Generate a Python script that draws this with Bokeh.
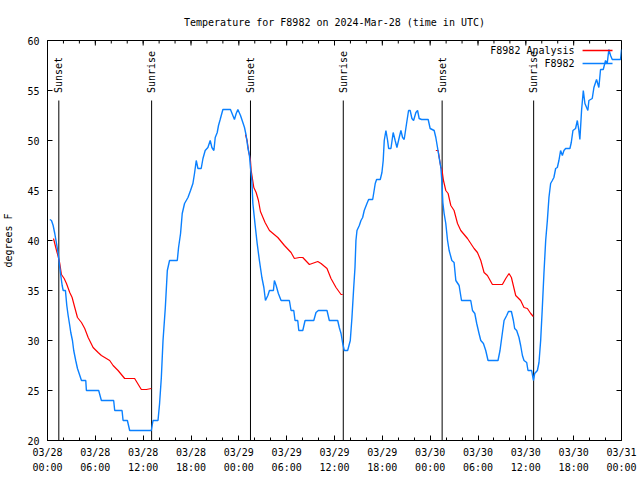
import math
import numpy as np
from bokeh.plotting import figure
from bokeh.models import LinearAxis, FixedTicker, Range1d
from bokeh.embed import file_html
from bokeh.resources import INLINE
from bokeh.core.properties import value

FONT = "DejaVu Sans Mono"

title_text = "Temperature for F8982 on 2024-Mar-28 (time in UTC)"
y_label = "degrees F"
series_names = ["F8982 Analysis", "F8982"]

# time axis: hours since 2024-03-28 00:00 UTC
x_ticks = [0, 6, 12, 18, 24, 30, 36, 42, 48, 54, 60, 66, 72]
x_tick_labels = ["03/28\n00:00", "03/28\n06:00", "03/28\n12:00", "03/28\n18:00",
                 "03/29\n00:00", "03/29\n06:00", "03/29\n12:00", "03/29\n18:00",
                 "03/30\n00:00", "03/30\n06:00", "03/30\n12:00", "03/30\n18:00",
                 "03/31\n00:00"]
x_minor_ticks = list(range(0, 73, 2))
y_ticks = [20, 25, 30, 35, 40, 45, 50, 55, 60]

# sunrise / sunset events
event_hours = [1.42, 13.06, 25.46, 37.1, 49.5, 60.98]
event_names = ["Sunset", "Sunrise", "Sunset", "Sunrise", "Sunset", "Sunrise"]

# analysis (nighttime only)
analysis_night1_h = [0.75, 1.13, 1.34, 1.54, 1.75, 2.09, 2.38, 2.79, 3.09, 3.42, 3.76, 4.26, 4.67,
                     5.10, 5.72, 6.35, 6.76, 7.80, 8.23, 8.85, 9.68, 10.93, 11.77, 12.40, 13.02]
analysis_night1_t = [40.2, 39.0, 38.4, 37.7, 36.6, 36.2, 35.7, 34.8, 34.3, 33.3, 32.3, 31.8, 31.2,
                     30.3, 29.3, 28.8, 28.5, 28.0, 27.5, 27.0, 26.2, 26.2, 25.1, 25.1, 25.2]
analysis_night2_h = [24.83, 25.04, 25.21, 25.46, 25.55, 25.88, 26.17, 26.46, 26.71, 27.29, 27.84,
                     28.89, 29.72, 30.55, 30.97, 31.59, 32.02, 32.85, 33.90, 34.31, 35.06, 35.56,
                     36.19, 36.82, 37.03]
analysis_night2_t = [50.6, 50.0, 49.0, 48.0, 47.0, 45.3, 44.8, 44.0, 42.9, 41.8, 41.0,
                     40.3, 39.5, 38.8, 38.2, 38.3, 38.3, 37.6, 37.9, 37.7, 37.2, 36.2,
                     35.3, 34.6, 34.6]
analysis_night3_h = [48.71, 49.00, 49.34, 49.46, 49.67, 49.96, 50.25, 50.59, 51.00, 51.43, 51.84,
                     52.68, 53.51, 53.93, 54.35, 54.76, 55.18, 55.81, 57.06, 57.48, 57.89, 58.19,
                     58.52, 58.73, 59.35, 59.77, 60.19, 60.61, 60.94]
analysis_night3_t = [49.0, 49.0, 47.3, 47.2, 46.0, 45.0, 44.7, 43.5, 43.0, 41.7, 41.0,
                     40.2, 39.2, 38.8, 38.0, 36.8, 36.5, 35.6, 35.6, 36.2, 36.7, 36.3,
                     35.2, 34.5, 34.0, 33.3, 33.2, 32.7, 32.4]

# station observations
obs_h = [0.29, 0.50, 0.71, 0.91, 1.13, 1.34, 1.54, 1.67, 1.84, 1.97, 2.25, 2.42, 2.59, 2.79, 2.92,
         3.13, 3.29, 3.54, 3.76, 3.97, 4.26, 4.80, 4.88, 6.42, 6.76, 8.30, 8.43, 9.35, 9.48, 10.02,
         10.31, 13.02, 13.24, 13.86, 14.06, 14.28, 14.49, 14.78, 15.03, 15.31, 16.28, 16.44, 16.69,
         16.90, 17.19, 17.62, 17.94, 18.24, 18.44, 18.66, 18.87, 19.28, 19.50, 19.78, 20.12, 20.41,
         20.62, 20.87, 21.04, 21.29, 21.45, 21.66, 22.00, 22.95, 23.25, 23.45, 23.67, 23.88, 24.21,
         24.42, 24.71, 24.92, 25.13, 25.33, 25.46, 25.63, 25.76, 26.05, 26.30, 26.58, 26.89, 27.14,
         27.34, 27.64, 27.84, 28.34, 28.46, 28.68, 28.96, 29.30, 30.34, 30.55, 30.89, 31.05, 31.39,
         31.52, 32.02, 32.31, 33.40, 33.68, 33.97, 35.06, 35.35, 36.40, 36.60, 36.82, 37.03, 37.23,
         37.65, 37.98, 38.19, 38.41, 38.57, 38.69, 38.82, 39.11, 39.32, 39.53, 39.73, 40.07, 40.28,
         40.79, 40.91, 41.11, 41.28, 41.74, 41.95, 42.11, 42.24, 42.45, 42.66, 42.79, 43.08, 43.36,
         43.61, 43.83, 44.12, 44.33, 44.54, 44.74, 45.04, 45.29, 45.49, 45.71, 45.92, 46.21, 46.42,
         46.62, 46.92, 47.75, 48.00, 48.50, 48.71, 48.92, 49.12, 49.34, 49.46, 49.59, 49.75, 49.96,
         50.18, 50.38, 50.72, 51.00, 51.22, 51.63, 51.93, 53.09, 53.31, 53.60, 53.84, 54.13, 54.35,
         54.68, 54.97, 55.26, 56.51, 56.76, 56.98, 57.27, 57.60, 57.82, 58.19, 58.44, 58.60, 58.85,
         59.14, 59.35, 59.57, 59.77, 60.11, 60.27, 60.73, 60.95, 61.11, 61.45, 61.65, 61.86, 62.07,
         62.27, 62.49, 62.70, 62.90, 63.11, 63.32, 63.52, 63.74, 63.95, 64.15, 64.36, 64.58, 64.78,
         64.99, 65.53, 65.70, 65.91, 66.24, 66.46, 66.65, 66.78, 66.99, 67.21, 67.41, 67.62, 67.78,
         67.91, 68.33, 68.54, 68.87, 69.16, 69.37, 69.71, 70.00, 70.21, 70.41, 70.63, 70.84, 71.88,
         72.00]
obs_t = [42.1, 42.0, 41.5, 40.7, 39.7, 38.7, 37.3, 36.5, 35.5, 35.0, 35.0, 33.5, 32.5, 31.5, 30.8,
         30.0, 29.0, 28.0, 27.2, 26.7, 26.0, 26.0, 25.0, 25.0, 24.0, 24.0, 23.0, 23.0, 22.0, 22.0,
         21.0, 21.0, 22.0, 22.0, 23.7, 26.3, 30.0, 33.3, 37.0, 38.0, 38.0, 39.3, 40.7,
         42.7, 43.7, 44.3, 45.0, 45.7, 46.7, 48.0, 47.2, 47.2, 48.2, 49.0, 49.3, 50.0,
         49.3, 49.0, 50.3, 50.8, 51.5, 52.1, 53.1, 53.1, 52.5, 52.1, 52.7, 53.1, 52.5,
         52.0, 51.3, 50.5, 49.3, 48.5, 47.3, 46.0, 43.7, 41.5, 39.7, 38.0, 36.3, 35.3,
         34.0, 34.5, 35.0, 35.0, 36.0, 35.5, 34.7, 34.0, 34.0, 33.0, 33.0, 32.0, 32.0,
         31.0, 31.0, 32.0, 32.0, 32.8, 33.0, 33.0, 32.0, 32.0, 31.3, 30.7, 29.7, 29.0,
         29.0, 30.0, 32.3, 35.3, 37.3, 40.0, 41.0, 41.5, 42.0, 42.3, 43.0, 43.7, 44.1,
         44.1, 44.7, 45.7, 46.1, 46.1, 46.8, 48.0, 50.0, 51.0, 50.0, 49.2, 49.2, 50.8,
         50.0, 49.3, 50.3, 51.0, 50.3, 50.1, 51.7, 53.0, 53.0, 52.2, 52.0, 52.8, 53.0,
         52.2, 52.1, 52.1, 51.2, 51.0, 50.3, 49.3, 48.3, 47.3, 46.0, 43.8, 42.7, 41.7,
         40.0, 39.0, 38.0, 37.8, 36.0, 35.5, 34.0, 34.0, 33.0, 32.7, 31.7, 30.7, 30.0,
         29.7, 29.0, 28.0, 28.0, 29.0, 30.3, 32.0, 32.5, 32.9, 32.9, 32.0, 31.2, 31.0,
         30.3, 29.5, 28.5, 28.0, 27.8, 27.0, 27.0, 26.0, 26.7, 27.0, 27.8, 30.0, 33.3,
         36.7, 40.0, 42.0, 44.3, 45.7, 46.0, 46.3, 47.2, 47.3, 48.0, 49.0, 48.5, 49.0,
         49.2, 49.2, 49.8, 51.0, 51.2, 52.0, 51.0, 50.1, 53.0, 55.0, 53.7, 53.3, 53.0,
         54.0, 54.2, 55.3, 56.1, 55.3, 57.1, 57.1, 58.0, 57.7, 59.1, 58.5, 58.1, 58.1,
         59.1]

X_START, X_END = 0, 72
Y_START, Y_END = 20, 60
RED = "#ff0000"
BLUE = "#0a80ff"

W, H = 640, 480
B_LEFT, B_RIGHT, B_TOP, B_BOTTOM = 46, 19, 40, 40
FRAME_W = W - B_LEFT - B_RIGHT
FRAME_H = H - B_TOP - B_BOTTOM
DX = (X_END - X_START) / FRAME_W   # data units per pixel
DY = (Y_END - Y_START) / FRAME_H

p = figure(width=W, height=H, output_backend="svg", toolbar_location=None,
           x_range=Range1d(X_START, X_END), y_range=Range1d(Y_START, Y_END),
           x_axis_location=None, y_axis_location=None,
           min_border_left=B_LEFT, min_border_right=B_RIGHT,
           min_border_top=B_TOP, min_border_bottom=B_BOTTOM,
           title=title_text)
p.title.text_font = FONT
p.title.text_font_size = "10px"
p.title.text_font_style = "normal"
p.title.text_color = "black"
p.title.align = "center"
p.title.standoff = 25
p.grid.visible = False
p.outline_line_color = "black"
p.outline_line_width = 1
p.background_fill_color = "white"
p.border_fill_color = "white"

MAJOR_LEN, MINOR_LEN = 5, 3


def style(ax):
    ax.axis_line_color = "black"
    ax.major_tick_line_color = "black"
    ax.minor_tick_line_color = "black"
    ax.major_tick_in = MAJOR_LEN
    ax.major_tick_out = 0
    ax.minor_tick_in = MINOR_LEN
    ax.minor_tick_out = 0
    ax.major_label_text_font = FONT
    ax.major_label_text_color = "black"
    ax.major_label_text_font_size = "10px"


bottom = LinearAxis(ticker=FixedTicker(ticks=x_ticks, minor_ticks=x_minor_ticks),
                    major_label_overrides=dict(zip(x_ticks, x_tick_labels)))
style(bottom)
bottom.major_label_standoff = 6
bottom.major_label_text_line_height = 1.4
p.add_layout(bottom, "below")

left = LinearAxis(ticker=FixedTicker(ticks=y_ticks, minor_ticks=[]), axis_label=y_label)
style(left)
left.major_label_standoff = 8
left.axis_label_text_font = FONT
left.axis_label_text_font_size = "10px"
left.axis_label_text_font_style = "normal"
left.axis_label_text_color = "black"
left.axis_label_standoff = 10
p.add_layout(left, "left")

# mirrored inward ticks on the top and right borders (gnuplot style)
p.segment(x0=x_ticks, y0=[Y_END] * len(x_ticks), x1=x_ticks,
          y1=[Y_END - MAJOR_LEN * DY] * len(x_ticks), line_color="black", line_width=1)
p.segment(x0=x_minor_ticks, y0=[Y_END] * len(x_minor_ticks), x1=x_minor_ticks,
          y1=[Y_END - MINOR_LEN * DY] * len(x_minor_ticks), line_color="black", line_width=1)
p.segment(x0=[X_END] * len(y_ticks), y0=y_ticks, x1=[X_END - MAJOR_LEN * DX] * len(y_ticks),
          y1=y_ticks, line_color="black", line_width=1)

# sunrise / sunset markers
EVENT_TOP = 54.0
p.segment(x0=event_hours, y0=[Y_START] * len(event_hours), x1=event_hours,
          y1=[EVENT_TOP] * len(event_hours), line_color="black", line_width=1)
p.text(x=event_hours, y=[EVENT_TOP + 0.75] * len(event_hours), text=event_names,
       angle=math.pi / 2, text_align="left", text_baseline="middle",
       text_font=value(FONT), text_font_size="10px", text_color="black")

# analysis line with gaps during the day
ana_h = np.array(analysis_night1_h + [np.nan] + analysis_night2_h + [np.nan] + analysis_night3_h)
ana_t = np.array(analysis_night1_t + [np.nan] + analysis_night2_t + [np.nan] + analysis_night3_t)
p.line(ana_h, ana_t, line_color=RED, line_width=1.2)
p.line(np.array(obs_h), np.array(obs_t), line_color=BLUE, line_width=1.4)

# gnuplot-style key: label, then sample line, top right
key_text_x = X_END - 47 * DX
key_line_x0 = X_END - 39 * DX
key_line_x1 = X_END - 9 * DX
key_rows = [Y_END - 10 * DY, Y_END - 23 * DY]
p.text(x=[key_text_x] * 2, y=key_rows, text=series_names, text_align="right",
       text_baseline="middle", text_font=value(FONT), text_font_size="10px", text_color="black")
p.segment(x0=[key_line_x0] * 2, y0=key_rows, x1=[key_line_x1] * 2, y1=key_rows,
          line_color=[RED, BLUE], line_width=1.5)

open("out.html", "w").write(file_html(p, INLINE))
